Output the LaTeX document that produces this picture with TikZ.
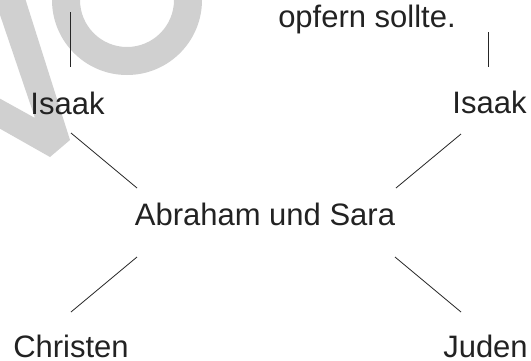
\documentclass[tikz,border=0pt]{standalone}
\usepackage{fontspec}
\setmainfont{Liberation Sans}
\definecolor{wmgray}{HTML}{D0D0D0}
\definecolor{txt}{HTML}{222222}
\tikzset{
  lbl/.style={anchor=base, inner sep=0pt, text=txt, font=\fontsize{31}{36}\selectfont},
  conn/.style={draw=black!85, line width=0.8pt},
  wm/.style={fill=wmgray, draw=none}
}
\begin{document}
\begin{tikzpicture}[x=1pt, y=-1pt]
\useasboundingbox (0,0) rectangle (531,360);
\fill[white] (0,0) rectangle (531,360);
% watermark
\begin{scope}
\clip (0,0) rectangle (531,360);
\fill[wm, even odd rule] (127,0) circle[radius=75pt] (127,0) circle[radius=47pt];
\fill[wm] (-3,-2) -- (25,-2) -- (70,140) -- (50,157) -- (-3,127) -- (-3,97) -- (35,118) -- (-3,6) -- cycle;
\end{scope}
% texts
\node[lbl] (opfer) at (367,27) {opfern sollte.};
\node[lbl] (isaakL) at (67.5,114) {Isaak};
\node[lbl] (isaakR) at (489.5,113) {Isaak};
\node[lbl] (abr) at (265,225) {Abraham und Sara};
\node[lbl, text depth=0pt] (chr) at (71,357) {Christen};
\node[lbl, text depth=0pt] (jud) at (485.5,357) {Juden};
% connector ends
\coordinate (vL1) at (70,12);  \coordinate (vL2) at (70,67);
\coordinate (vR1) at (488,32); \coordinate (vR2) at (488,67);
\coordinate (a1) at (71,133);  \coordinate (a2) at (137,188);
\coordinate (b1) at (461,134); \coordinate (b2) at (396,188);
\coordinate (c1) at (137,257); \coordinate (c2) at (71,312);
\coordinate (d1) at (395,257); \coordinate (d2) at (461,312);
\draw[conn] (vL1) -- (vL2);
\draw[conn] (vR1) -- (vR2);
\draw[conn] (a1) -- (a2);
\draw[conn] (b1) -- (b2);
\draw[conn] (c1) -- (c2);
\draw[conn] (d1) -- (d2);
\end{tikzpicture}
\end{document}
